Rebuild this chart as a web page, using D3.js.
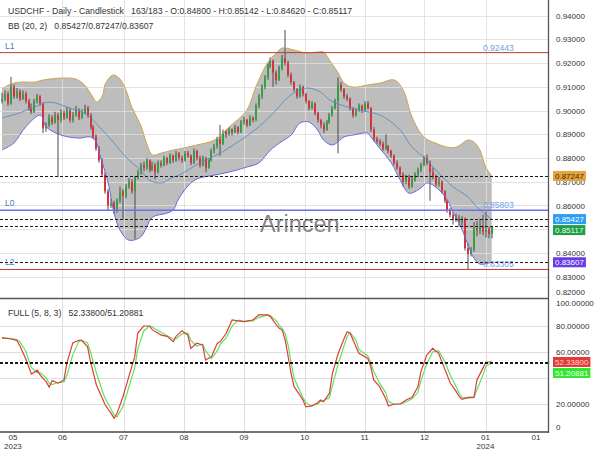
<!DOCTYPE html>
<html><head><meta charset="utf-8">
<script src="https://cdn.jsdelivr.net/npm/d3@7"></script>
<style>body{margin:0;background:#fff}svg{display:block;font-family:"Liberation Sans",Arial,sans-serif}</style>
</head><body><svg id="c" width="600" height="450"></svg>
<script>
// ---------- DATA ----------
const opens=[.9040,.9050,.9070,.9030,.9100,.9060,.9080,.9050,.9070,.9040,
.9010,.8995,.9040,.9060,.9030,.8925,.8940,.8970,.8950,.8980,
.8960,.8990,.8970,.9000,.8960,.8980,.9000,.8970,.8990,.9010,
.8980,.8930,.8890,.8840,.8790,.8730,.8660,.8600,.8610,.8580,
.8620,.8660,.8640,.8680,.8700,.8660,.8720,.8740,.8770,.8760,
.8790,.8750,.8770,.8740,.8780,.8770,.8800,.8780,.8810,.8790,
.8820,.8800,.8790,.8820,.8810,.8780,.8830,.8800,.8770,.8800,
.8760,.8790,.8830,.8850,.8880,.8860,.8910,.8900,.8920,.8910,
.8930,.8910,.8950,.8960,.8940,.8970,.8960,.9020,.9060,.9100,
.9140,.9190,.9210,.9160,.9130,.9180,.9220,.9200,.9150,.9120,
.9090,.9060,.9100,.9070,.9040,.9010,.9030,.8990,.8960,.8940,
.8920,.8950,.8980,.9010,.9040,.9110,.9090,.9060,.9050,.9010,
.8980,.9000,.9020,.9000,.9030,.9010,.8920,.8880,.8870,.8860,
.8840,.8850,.8830,.8810,.8780,.8760,.8730,.8700,.8720,.8680,
.8710,.8730,.8750,.8770,.8800,.8780,.8740,.8720,.8690,.8700,
.8660,.8620,.8580,.8560,.8540,.8545,.8530,.8545,.8420,.8395,
.8415,.8505,.8495,.8515,.8490,.8500,.8480];
const highs=[.9075,.9085,.9080,.9142,.9110,.9095,.9090,.9085,.9080,.9050,
.9030,.9050,.9070,.9065,.9035,.8950,.8985,.8980,.8995,.8990,
.9005,.9000,.9015,.9010,.8995,.9020,.9010,.9005,.9025,.9020,
.8990,.8940,.8900,.8850,.8800,.8740,.8670,.8630,.8620,.8630,
.8680,.8670,.8690,.8715,.8710,.8725,.8750,.8780,.8785,.8800,
.8795,.8785,.8780,.8790,.8790,.8810,.8805,.8820,.8815,.8830,
.8825,.8810,.8830,.8830,.8815,.8840,.8835,.8810,.8810,.8805,
.8800,.8840,.8860,.8890,.8940,.8920,.8920,.8930,.8925,.8940,
.8935,.8960,.8975,.8965,.8980,.8975,.9030,.9070,.9110,.9150,
.9200,.9225,.9215,.9170,.9190,.9235,.9340,.9210,.9160,.9125,
.9095,.9110,.9105,.9075,.9045,.9040,.9035,.8995,.8965,.8950,
.8960,.8990,.9020,.9050,.9140,.9120,.9095,.9070,.9055,.9015,
.9010,.9030,.9025,.9040,.9040,.9015,.8930,.8890,.8880,.8870,
.8900,.8855,.8835,.8815,.8790,.8765,.8740,.8730,.8730,.8720,
.8740,.8760,.8780,.8810,.8815,.8790,.8760,.8730,.8720,.8705,
.8665,.8625,.8590,.8570,.8565,.8560,.8555,.8550,.8440,.8425,
.8530,.8535,.8545,.8560,.8575,.8510,.85142];
const lows=[.9030,.9040,.9020,.9025,.9050,.9050,.9040,.9045,.9030,.9000,
.8985,.8990,.9030,.9020,.8905,.8910,.8930,.8940,.8945,.8720,
.8950,.8960,.8965,.8950,.8950,.8975,.8960,.8965,.8985,.8970,
.8920,.8880,.8830,.8780,.8720,.8650,.8580,.8590,.8565,.8570,
.8610,.8540,.8630,.8670,.8650,.8460,.8710,.8730,.8745,.8750,
.8740,.8745,.8710,.8735,.8760,.8765,.8770,.8775,.8780,.8785,
.8790,.8780,.8785,.8800,.8770,.8775,.8790,.8760,.8765,.8740,
.8755,.8785,.8820,.8840,.8810,.8855,.8885,.8895,.8895,.8905,
.8900,.8905,.8940,.8930,.8935,.8950,.8955,.9010,.9050,.9090,
.9130,.9180,.9100,.9110,.9125,.9170,.9190,.9140,.9110,.9080,
.9050,.9055,.9060,.9030,.9000,.9005,.8980,.8950,.8925,.8905,
.8915,.8945,.8975,.9005,.8820,.9080,.9050,.9040,.9000,.8970,
.8975,.8995,.8990,.8995,.9005,.8910,.8870,.8860,.8850,.8830,
.8835,.8820,.8800,.8770,.8750,.8720,.8680,.8690,.8670,.8675,
.8700,.8720,.8740,.8765,.8770,.8620,.8710,.8680,.8680,.8650,
.8610,.8570,.8550,.8520,.8530,.8510,.8515,.8410,.8330,.8385,
.8405,.8470,.8480,.8475,.8465,.8462,.8462];
const closes=[.9050,.9070,.9030,.9100,.9060,.9080,.9050,.9070,.9040,.9010,
.8995,.9040,.9060,.9030,.8925,.8940,.8970,.8950,.8980,.8960,
.8990,.8970,.9000,.8960,.8980,.9000,.8970,.8990,.9010,.8980,
.8930,.8890,.8840,.8790,.8730,.8660,.8600,.8610,.8580,.8620,
.8660,.8640,.8680,.8700,.8660,.8720,.8740,.8770,.8760,.8790,
.8750,.8770,.8740,.8780,.8770,.8800,.8780,.8810,.8790,.8820,
.8800,.8790,.8820,.8810,.8780,.8830,.8800,.8770,.8800,.8760,
.8790,.8830,.8850,.8880,.8860,.8910,.8900,.8920,.8910,.8930,
.8910,.8950,.8960,.8940,.8970,.8960,.9020,.9060,.9100,.9140,
.9190,.9210,.9160,.9130,.9180,.9220,.9200,.9150,.9120,.9090,
.9060,.9100,.9070,.9040,.9010,.9030,.8990,.8960,.8940,.8920,
.8950,.8980,.9010,.9040,.9110,.9090,.9060,.9050,.9010,.8980,
.9000,.9020,.9000,.9030,.9010,.8920,.8880,.8870,.8860,.8840,
.8850,.8830,.8810,.8780,.8760,.8730,.8700,.8720,.8680,.8710,
.8730,.8750,.8770,.8800,.8780,.8740,.8720,.8690,.8700,.8660,
.8620,.8580,.8560,.8540,.8550,.8530,.8545,.8420,.8395,.8415,
.8505,.8495,.8515,.8490,.8500,.8480,.85117];

// Bollinger bands (20,2) at sample bars
const upperBars=[0,3,6,11,14,20,25,28,31,32,34,35,37,38,40,42,44,47,49,51,54,58,60,66,72,77,83,86,90,93,95,99,103,107,109,111,114,116,119,124,128,133,136,139,143,147,151,154,158,160,162,164,166];
const upperVals=[.9091,.9112,.9120,.9120,.9129,.9137,.9133,.9108,.9053,.9036,.9061,.9112,.9146,.9150,.9133,.9087,.9015,.8939,.8863,.8813,.8821,.8834,.8838,.8855,.8876,.8931,.9002,.9099,.9201,.9243,.9264,.9255,.9243,.9247,.9247,.9213,.9158,.9116,.9099,.9108,.9116,.9129,.9087,.8973,.8889,.8863,.8846,.8846,.8876,.8867,.8834,.8762,.8725];
const lowerBars=[0,4,8,13,15,20,26,30,32,33,36,38,40,43,47,49,51,56,58,60,64,67,72,77,83,87,91,94,98,101,104,107,109,112,116,119,124,125,128,132,135,138,142,144,147,151,153,155,158,160,162,166];
const lowerVals=[.8834,.8863,.8931,.8981,.8931,.8897,.8884,.8889,.8867,.8821,.8695,.8568,.8497,.8454,.8467,.8509,.8551,.8568,.8581,.8631,.8695,.8716,.8728,.8741,.8762,.8779,.8834,.8863,.8897,.8948,.8952,.8918,.8876,.8855,.8889,.8897,.8905,.8889,.8842,.8779,.8707,.8652,.8674,.8695,.8678,.8623,.8568,.8526,.8433,.8378,.8353,.8361];
const midBars=[0,6,11,16,22,29,33,38,42,47,50,54,58,60,67,74,81,87,92,97,101,104,108,111,115,121,126,130,135,139,144,148,153,158,161,166];
const midVals=[.8969,.8990,.9015,.9036,.9015,.8981,.8931,.8863,.8804,.8749,.8707,.8695,.8720,.8728,.8779,.8821,.8876,.8931,.8990,.9057,.9087,.9095,.9078,.9045,.9024,.9002,.8990,.8969,.8918,.8846,.8792,.8737,.8678,.8636,.8593,.8543];

// Stochastic FULL (5,8,3)
const stochBars=[0,3,5,6,8,9,10,12,13,15,16,17,19,21,22,24,26,27,29,30,32,34,35,37,38,39,41,43,45,46,48,50,51,54,56,58,59,61,63,64,66,68,69,71,73,74,76,78,80,82,85,87,90,91,93,94,95,96,97,98,99,101,102,103,105,107,108,109,111,112,114,116,117,118,120,121,124,125,126,128,130,131,133,135,137,139,141,142,144,146,148,150,152,154,155,156,158,160,161,163,164,165,166];
const stochK=[71,70,69,65,55,49,43,46,42,37,33,38,36,38.5,51.5,67,69,69,64,52.6,34.6,24.4,19.2,12.8,9,12.8,25.6,41,56.4,74.4,80,80,77,73,72,68,72,76.4,73,62.8,66.7,65.4,53.8,56.4,66.7,68,74.4,84.6,84,83.3,84.6,88.5,88.5,87.2,80.8,78.2,76.9,69.2,56.4,43.6,33.3,26.9,23.1,17.9,18.5,21,23.1,21.8,28.2,43.6,59,70.5,75.6,74.4,64.1,59,55.1,48.7,38.5,33.3,24.4,18.5,20,20,23.1,25.1,33.3,44.9,57.7,62.8,59,47.4,35.9,29.5,25.6,23.6,25.1,25.1,38.5,47.4,52.1,52.3,52.338];
const stochD=[70.5,70.5,69.5,68,61,54,48,44,44,40,36,35,36.5,37,42,58,68,69,67,60,44,30,24,16,11.5,10,18,33,48,62,76,80,79,75,72.5,70,70,74,74.5,69,64.5,66,61,55,61,66,71,80,84.5,83.5,84,86.5,88.5,88,84,80.5,78,74,65,52,40,30,25,21,18.5,20,22,22.5,25,34,51,65,72,75,69,62,57,52,45,36,29,22,19.5,20,21.5,24,29,38,51,60,61,53,42,33,28,25,24.5,25,31,42,49,50.5,51.20881];

// Axis ticks / labels
const priceTicks=[0.82,0.83,0.84,0.85,0.86,0.87,0.88,0.89,0.90,0.91,0.92,0.93,0.94];
const stochTicks=[0,20,60,80,100];
const stochGrid=[20,40,60,80];
const monthBars=[-0.7,20.5,41.2,61.7,82,102.6,122.9,143.2,163.9,181];
const monthLabels=[["05","2023"],["06"],["07"],["08"],["09"],["10"],["11"],["12"],["01","2024"],["01"]];

// Levels
const levels=[{name:"L1",v:0.92443,color:"#c0392b",w:1},{name:"L0",v:0.85803,color:"#6f6fe6",w:1.5},{name:"L2",v:0.83305,color:"#c0392b",w:1}];
const priceMarks=[{v:0.87247,bg:"#e6a53c",fg:"#3a2a10"},{v:0.85427,bg:"#2a9df4",fg:"#ffffff"},{v:0.85117,bg:"#1f9e4a",fg:"#e8ffe8"},{v:0.83607,bg:"#6a3ce6",fg:"#ffffff"}];
const stochMarks=[{v:52.338,bg:"#e53935",fg:"#ffd8d8"},{v:51.20881,bg:"#2ee82e",fg:"#f4fff4"}];

// ---------- DRAW ----------
const svg=d3.select('#c');
const PR=548, MB=298, ST=299, SB=432;
const x=d3.scaleLinear().domain([0,166]).range([2,491.7]);
const y=d3.scaleLinear().domain([0.82,0.94]).range([300.4,15.7]);
const ys=d3.scaleLinear().domain([0,100]).range([430,300]);

const defs=svg.append('defs');
defs.append('clipPath').attr('id','cm').append('rect').attr('x',0).attr('y',0).attr('width',PR).attr('height',MB);
defs.append('clipPath').attr('id','cs').append('rect').attr('x',0).attr('y',ST).attr('width',PR).attr('height',SB-ST);

const gM=svg.append('g').attr('clip-path','url(#cm)');
const gS=svg.append('g').attr('clip-path','url(#cs)');

// band fill
const curve=d3.curveCatmullRom.alpha(0.5);
const bl=d3.line().x(d=>x(d[0])).y(d=>y(d[1])).curve(curve);
const up=d3.zip(upperBars,upperVals), lo=d3.zip(lowerBars,lowerVals), md=d3.zip(midBars,midVals);
gM.append('path').attr('d',bl(up)+bl(lo.slice().reverse()).replace(/^M/,'L')+'Z')
  .attr('fill','#bdbdbd');

// grid main
const gridC='#dedede';
gM.selectAll('line.hg').data(priceTicks).join('line')
  .attr('x1',0).attr('x2',PR).attr('y1',d=>Math.round(y(d))+0.5).attr('y2',d=>Math.round(y(d))+0.5)
  .attr('stroke',gridC).attr('stroke-width',1).attr('stroke-opacity',0.85);
const vTicks=monthBars.filter(b=>x(b)>3 && x(b)<530);
gM.selectAll('line.vg').data(vTicks).join('line')
  .attr('x1',d=>Math.round(x(d))+0.5).attr('x2',d=>Math.round(x(d))+0.5).attr('y1',0).attr('y2',MB)
  .attr('stroke',gridC).attr('stroke-opacity',0.85);

// candles
const idx=d3.range(closes.length);
gM.selectAll('line.wick').data(idx).join('line')
  .attr('x1',i=>Math.round(x(i))).attr('x2',i=>Math.round(x(i)))
  .attr('y1',i=>y(highs[i])).attr('y2',i=>y(lows[i]))
  .attr('stroke','#4a4a4a').attr('stroke-width',1);
gM.selectAll('rect.body').data(idx).join('rect')
  .attr('x',i=>Math.round(x(i))-1).attr('width',2)
  .attr('y',i=>y(Math.max(opens[i],closes[i])))
  .attr('height',i=>Math.max(1,Math.abs(y(opens[i])-y(closes[i]))))
  .attr('fill',i=>closes[i]>=opens[i]?'#35a043':'#d8323c');

// band lines
gM.append('path').attr('d',bl(up)).attr('fill','none').attr('stroke','#d4a24a').attr('stroke-width',1);
gM.append('path').attr('d',bl(lo)).attr('fill','none').attr('stroke','#6868dc').attr('stroke-width',1);
gM.append('path').attr('d',bl(md)).attr('fill','none').attr('stroke','#5a8cc0').attr('stroke-width',0.9);

// level lines
gM.selectAll('line.lv').data(levels).join('line')
  .attr('x1',0).attr('x2',PR).attr('y1',d=>y(d.v)).attr('y2',d=>y(d.v))
  .attr('stroke',d=>d.color).attr('stroke-width',d=>d.w);
// dashed current-value lines
gM.selectAll('line.dl').data(priceMarks).join('line')
  .attr('x1',0).attr('x2',PR).attr('y1',d=>Math.round(y(d.v))+0.5).attr('y2',d=>Math.round(y(d.v))+0.5)
  .attr('stroke','#1a1a1a').attr('stroke-dasharray','3,2').attr('stroke-width',1);

// watermark
svg.append('text').attr('x',260).attr('y',232).attr('font-size',23.5).attr('fill','#6e6e6e').attr('fill-opacity',0.85)
  .text('Arincen');

// level labels
svg.selectAll('text.ll').data(levels).join('text')
  .attr('x',5).attr('y',d=>y(d.v)-4).attr('font-size',8.5).attr('fill','#4a7bbf').text(d=>d.name);
svg.selectAll('text.lr').data(levels).join('text')
  .attr('x',483).attr('y',d=>y(d.v)-2).attr('font-size',8.5).attr('fill','#6f9fe6').text(d=>d.v.toFixed(5));

// header
svg.append('text').attr('x',8).attr('y',14).attr('font-size',8.7).attr('fill','#333')
  .text('USDCHF - Daily - Candlestick   163/183 - O:0.84800 - H:0.85142 - L:0.84620 - C:0.85117').attr('xml:space','preserve');
svg.append('text').attr('x',8).attr('y',29).attr('font-size',8.7).attr('fill','#333').attr('xml:space','preserve')
  .text('BB (20, 2)   0.85427/0.87247/0.83607');

// ----- stochastic panel -----
gS.selectAll('line.hg').data(stochGrid).join('line')
  .attr('x1',0).attr('x2',PR).attr('y1',d=>Math.round(ys(d))+0.5).attr('y2',d=>Math.round(ys(d))+0.5)
  .attr('stroke',gridC);
gS.selectAll('line.vg').data(vTicks).join('line')
  .attr('x1',d=>Math.round(x(d))+0.5).attr('x2',d=>Math.round(x(d))+0.5).attr('y1',ST).attr('y2',SB)
  .attr('stroke',gridC);
const sl=d3.line().x(d=>x(d[0])).y(d=>ys(d[1])).curve(d3.curveLinear);
gS.append('path').attr('d',sl(d3.zip(stochBars,stochD))).attr('fill','none').attr('stroke','#5ee35e').attr('stroke-width',1.2);
gS.append('path').attr('d',sl(d3.zip(stochBars,stochK))).attr('fill','none').attr('stroke','#e03a3a').attr('stroke-width',1.2);
gS.selectAll('line.dl').data(stochMarks).join('line')
  .attr('x1',0).attr('x2',PR).attr('y1',d=>Math.round(ys(d.v))+0.5).attr('y2',d=>Math.round(ys(d.v))+0.5)
  .attr('stroke','#1a1a1a').attr('stroke-dasharray','3,2');
svg.append('text').attr('x',8).attr('y',316).attr('font-size',8.7).attr('fill','#333').attr('xml:space','preserve')
  .text('FULL (5, 8, 3)   52.33800/51.20881');

// frame lines
svg.append('line').attr('x1',0).attr('x2',PR).attr('y1',298.5).attr('y2',298.5).attr('stroke','#555').attr('stroke-width',1.5);
svg.append('line').attr('x1',0).attr('x2',PR).attr('y1',432).attr('y2',432).attr('stroke','#444').attr('stroke-width',1.5);
svg.append('line').attr('x1',PR+0.5).attr('x2',PR+0.5).attr('y1',0).attr('y2',433).attr('stroke','#555').attr('stroke-width',1.3);

// right axis labels
const tl=svg.append('g').attr('font-size',8).attr('fill','#333');
tl.selectAll('text.pt').data(priceTicks).join('text')
  .attr('x',556).attr('y',d=>Math.min(Math.max(y(d),6),292)+3).text(d=>d.toFixed(5));
tl.selectAll('text.st').data(stochTicks).join('text')
  .attr('x',556).attr('y',d=>Math.min(Math.max(ys(d),303),427)+3).text(d=>d===0?'0':d.toFixed(5));

// badges with de-overlap
function badges(list,scale,fmt){
  const items=list.map(d=>({...d,cy:scale(d.v)})).sort((a,b)=>a.cy-b.cy);
  for(let i=1;i<items.length;i++){ if(items[i].cy-items[i-1].cy<11) items[i].cy=items[i-1].cy+11; }
  const g=svg.append('g');
  items.forEach(d=>{
    const t=g.append('text').attr('x',555).attr('y',d.cy+3).attr('font-size',8).attr('fill',d.fg).text(fmt(d.v));
    const w=t.node().getComputedTextLength();
    g.insert('rect','text').attr('x',553).attr('y',d.cy-5).attr('width',w+4).attr('height',10).attr('fill',d.bg);
  });
}
badges(priceMarks,y,v=>v.toFixed(5));
badges(stochMarks,ys,v=>v.toFixed(5));

// x axis labels
const xl=svg.append('g').attr('font-size',8).attr('fill','#333').attr('text-anchor','middle');
monthBars.forEach((b,i)=>{
  const lines=monthLabels[i];
  const t=xl.append('text');
  lines.forEach((s,k)=>t.append('tspan').attr('y',440+k*8.5).text(s));
  const w=t.node().getBBox().width;
  const cx=Math.max(x(b),w/2+1.5);
  t.attr('x',cx); t.selectAll('tspan').attr('x',cx);
});
</script></body></html>
